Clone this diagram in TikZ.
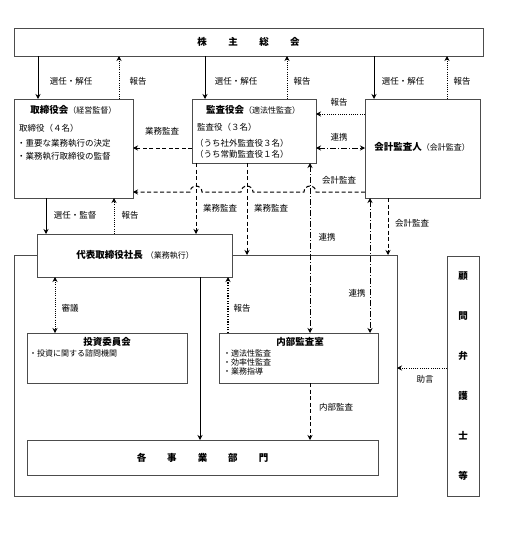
\documentclass[tikz,border=0pt]{standalone}
\usepackage{fontspec}
\setmainfont{Noto Sans CJK JP}
\usetikzlibrary{arrows.meta}
\newcommand\mysubfont{\fontsize{8}{9}\selectfont\mdseries}
\begin{document}
\begin{tikzpicture}[x=1pt,y=-1pt,
  >={Stealth[length=5pt,width=5pt]},
  box/.style={draw=black!70, line width=1pt, inner sep=0pt, outer sep=0pt, fill=white},
  lab/.style={font=\fontsize{8.5}{10}\selectfont, inner sep=0pt},
  txt/.style={font=\fontsize{8.5}{10}\selectfont, inner sep=0pt, anchor=west},
  stxt/.style={font=\fontsize{8}{10}\selectfont, inner sep=0pt, anchor=west},
  ttl/.style={font=\fontsize{9.5}{11}\selectfont\bfseries, inner sep=0pt},
  arr/.style={->, line width=1pt},
  dar/.style={->, line width=1pt, dash pattern=on 4pt off 2.5pt},
  dotar/.style={->, line width=1pt, dash pattern=on 1pt off 1.2pt},
  dcar/.style={<->, line width=1pt, dash pattern=on 6pt off 2pt on 1pt off 2pt},
]
\useasboundingbox[fill=white] (0,0) rectangle (517,554);

% boxes
\node[box, minimum width=469pt, minimum height=28pt] (kabu) at (248.5,42) {};
\node[box, minimum width=119pt, minimum height=99pt] (tori) at (73.5,148.5) {};
\node[box, minimum width=124pt, minimum height=64pt] (kansa) at (254,131) {};
\node[box, minimum width=115pt, minimum height=99pt] (kaikei) at (422.5,148.5) {};
\node[box, minimum width=383pt, minimum height=241pt] (outer) at (205.5,375.5) {};
\node[box, minimum width=195pt, minimum height=43pt] (daihyo) at (134.5,255.5) {};
\node[box, minimum width=160pt, minimum height=50pt] (toshi) at (107,358) {};
\node[box, minimum width=159pt, minimum height=50pt] (naibu) at (298.5,358) {};
\node[box, minimum width=351pt, minimum height=35pt] (jigyo) at (202.5,457.5) {};
\node[box, minimum width=32pt, minimum height=240pt] (komon) at (463,376) {};

% texts in boxes
\node[ttl] (kabut) at (248.5,42) {株\hspace{21.5pt}主\hspace{21.5pt}総\hspace{21.5pt}会};
\node[ttl] (torit) at (73.5,110) {取締役会{\mysubfont（経営監督）}};
\node[txt] (torib1) at (19,128) {取締役（４名）};
\node[txt] (torib2) at (17,143) {・重要な業務執行の決定};
\node[txt] (torib3) at (17,156) {・業務執行取締役の監督};
\node[ttl] (kansat) at (253,110) {監査役会{\mysubfont（適法性監査）}};
\node[txt] (kansab1) at (197,127) {監査役（３名）};
\node[txt] (kansab2) at (195,143) {（うち社外監査役３名）};
\node[txt] (kansab3) at (195,154) {（うち常勤監査役１名）};
\node[ttl] (kaikeit) at (422,147) {会計監査人{\mysubfont（会計監査）}};
\node[ttl] (daihyot) at (135,255) {代表取締役社長\hspace{3pt}{\mysubfont（業務執行）}};
\node[ttl] (toshit) at (107,342) {投資委員会};
\node[stxt] (toshib) at (29,353) {・投資に関する諮問機関};
\node[ttl] (naibut) at (300,342) {内部監査室};
\node[stxt] (naibub) at (223,363) {\begin{tabular}{@{}l@{}}・適法性監査\\[-1pt]・効率性監査\\[-1pt]・業務指導\end{tabular}};
\node[ttl] (jigyot) at (202.5,458) {各\hspace{21pt}事\hspace{21pt}業\hspace{21pt}部\hspace{21pt}門};
\node[font=\fontsize{9.5}{40}\selectfont\bfseries, align=center, inner sep=0pt] (komont) at (463,376) {顧\\問\\弁\\護\\士\\等};

% 株主総会 connectors
\draw[arr] (kabu.south -| 38,0) -- (tori.north -| 38,0);
\draw[dotar] (tori.north -| 119,0) -- (kabu.south -| 119,0);
\draw[arr] (kabu.south -| 205,0) -- (kansa.north -| 205,0);
\draw[dotar] (kansa.north -| 287,0) -- (kabu.south -| 287,0);
\draw[arr] (kabu.south -| 374,0) -- (kaikei.north -| 374,0);
\draw[dotar] (kaikei.north -| 447,0) -- (kabu.south -| 447,0);
\node[lab] (l1) at (71,81) {選任・解任};
\node[lab] (l2) at (138,81) {報告};
\node[lab] (l3) at (236,81) {選任・解任};
\node[lab] (l4) at (302,81) {報告};
\node[lab] (l5) at (403,81) {選任・解任};
\node[lab] (l6) at (462,81) {報告};

% between 監査役会 and 会計監査人
\draw[dotar] (kaikei.west |- 0,114) -- (kansa.east |- 0,114);
\node[lab] (l7) at (339,102) {報告};
\draw[dcar] (kansa.east |- 0,148) -- (kaikei.west |- 0,148);
\node[lab] (l8) at (339,137) {連携};

% 監査役会 -> 取締役会
\draw[dar] (kansa.west |- 0,148) -- (tori.east |- 0,148);
\node[lab] (l9) at (162,131) {業務監査};

% 会計監査人 -> 取締役会 with jumps
\draw[dar] (kaikei.west |- 0,192) -- (316,192) arc[start angle=0,end angle=180,radius=6pt]
  -- (253,192) arc[start angle=0,end angle=180,radius=6pt]
  -- (202,192) arc[start angle=0,end angle=180,radius=6pt]
  -- (tori.east |- 0,192);
\node[lab] (l10) at (339,180) {会計監査};

% 監査役会 downward
\draw[dar] (kansa.south -| 196,0) -- (daihyo.north -| 196,0);
\node[lab] (l11) at (220,208) {業務監査};
\draw[dar] (kansa.south -| 247,0) -- (outer.north -| 247,0);
\node[lab] (l12) at (271,208) {業務監査};
\draw[dcar] (kansa.south -| 310,0) -- (naibu.north -| 310,0);
\node[lab] (l13) at (327,237) {連携};

% 会計監査人 downward
\draw[dcar] (kaikei.south -| 370,0) -- (naibu.north -| 370,0);
\node[lab] (l14) at (357,293) {連携};
\draw[dar] (kaikei.south -| 388,0) -- (outer.north -| 388,0);
\node[lab] (l15) at (412,223) {会計監査};

% 取締役会 <-> 代表取締役社長
\draw[arr] (tori.south -| 46,0) -- (daihyo.north -| 46,0);
\node[lab] (l16) at (75,215) {選任・監督};
\draw[dotar] (daihyo.north -| 114,0) -- (tori.south -| 114,0);
\node[lab] (l17) at (130,215) {報告};

% 代表取締役社長 below
\draw[<->, line width=1pt, dash pattern=on 1pt off 1.2pt] (daihyo.south -| 55,0) -- (toshi.north -| 55,0);
\node[lab] (l18) at (70,308) {審議};
\draw[->, line width=1.4pt, dash pattern=on 1.3pt off 1.3pt] (naibu.north -| 228,0) -- (daihyo.south -| 228,0);
\node[lab] (l19) at (242,308) {報告};
\draw[arr] (daihyo.south -| 200,0) -- (jigyo.north -| 200,0);

% 内部監査室 -> 各事業部門
\draw[dar] (naibu.south -| 310,0) -- (jigyo.north -| 310,0);
\node[lab] (l21) at (336,407) {内部監査};

% 顧問弁護士等 -> outer
\draw[dotar] (komon.west |- 0,368) -- (outer.east |- 0,368);
\node[lab] (l22) at (425,379) {助言};
\end{tikzpicture}
\end{document}
